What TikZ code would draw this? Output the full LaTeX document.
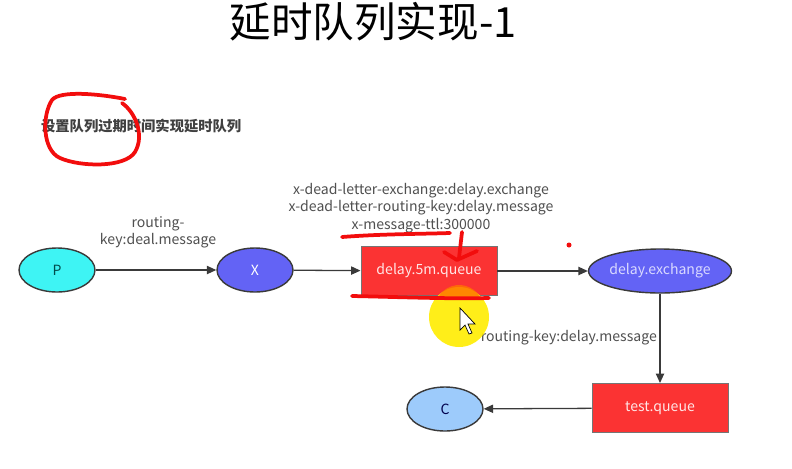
\documentclass[tikz,border=0pt]{standalone}
\usepackage{fontspec}
\setmainfont{Noto Sans CJK SC}
\usepackage{tikz}
\usetikzlibrary{arrows.meta, positioning, shapes.geometric}
\definecolor{pcyan}{HTML}{3EF4F4}
\definecolor{xblue}{HTML}{6363F5}
\definecolor{qred}{HTML}{FB3333}
\definecolor{cblue}{HTML}{9DCBFB}
\definecolor{edgegray}{HTML}{3A3A3A}
\definecolor{txtgray}{HTML}{505050}
\definecolor{penred}{HTML}{F20D0D}
\tikzset{
  ell/.style={ellipse, draw=edgegray, line width=1.2pt, minimum width=2.28cm, minimum height=1.32cm, inner sep=0pt, font=\fontsize{12}{14}\selectfont},
  qbox/.style={rectangle, draw=edgegray!70, line width=0.8pt, fill=qred, minimum width=4.08cm, minimum height=1.47cm, text=white!90!red, font=\fontsize{12}{14}\selectfont},
  flow/.style={->, draw=edgegray, line width=1.1pt},
  lbl/.style={text=txtgray, font=\fontsize{12}{14.8}\selectfont, align=center, inner sep=0pt},
  pen/.style={draw=penred, line width=3.2pt, line cap=round, line join=round}
}
\begin{document}
\begin{tikzpicture}[x=0.03cm, y=-0.03cm, >={Triangle[length=8pt, width=7pt]}]
  \useasboundingbox[fill=white] (0,0) rectangle (792,468);
  \node (title) at (373,22) {\fontsize{35.5}{37}\selectfont 延时队列实现-1};
  \node[anchor=west, text=txtgray!80!black, font=\fontsize{12.2}{14}\selectfont\bfseries] (sub) at (37,126) {设置队列过期时间实现延时队列};

  \node[ell, fill=pcyan, text=teal!60!black] (p) at (57,270) {P};
  \node[ell, fill=xblue, text=white] (x) at (255,270) {X};
  \node[qbox] (dq) at (429,271) {delay.5m.queue};
  \node[ell, fill=xblue, text=white!85!blue, minimum width=3.99cm] (dx) at (660,271) {delay.exchange};
  \node[qbox] (tq) at (660,408) {test.queue};
  \node[ell, fill=cblue, text=blue!30!black] (c) at (445,409) {C};

  \draw[flow] (p) -- (x);
  \draw[flow] (x) -- (dq);
  \draw[flow] (dq) -- (dx);
  \draw[flow] (dx) -- (tq);
  \draw[flow] (tq) -- (c);

  \node[lbl] (rk1) at (158,232) {routing-\\key:deal.message};
  \node[lbl] (args) at (421,208) {x-dead-letter-exchange:delay.exchange\\x-dead-letter-routing-key:delay.message\\x-message-ttl:300000};
  \node[lbl, anchor=east] (rk2) at (657,338) {routing-key:delay.message};

  \fill[yellow!95!orange, opacity=0.9] (459,317) circle (30);
  \fill[orange!90!red, opacity=0.8] (438,297) -- (480,297) arc (-30:-150:24) -- cycle;
  \draw[fill=white, draw=black, line width=0.6pt] (460,308) -- (460,330) -- (465,325) -- (469,334) -- (472,333) -- (468,324) -- (475,324) -- cycle;

  \draw[pen] (125,99) .. controls (100,94) and (60,90) .. (52,100) .. controls (42,115) and (42,150) .. (60,158) .. controls (80,167) and (125,168) .. (135,152) .. controls (145,135) and (135,112) .. (122,103);
  \draw[pen] (342,237) .. controls (380,234) and (420,234) .. (450,233);
  \draw[pen] (462,232) -- (459,258);
  \draw[pen] (444,252) -- (457,260) -- (477,251);
  \draw[pen] (352,296) .. controls (400,297) and (450,299) .. (489,298);
  \fill[penred] (569,245) circle (2.5);
\end{tikzpicture}
\end{document}
